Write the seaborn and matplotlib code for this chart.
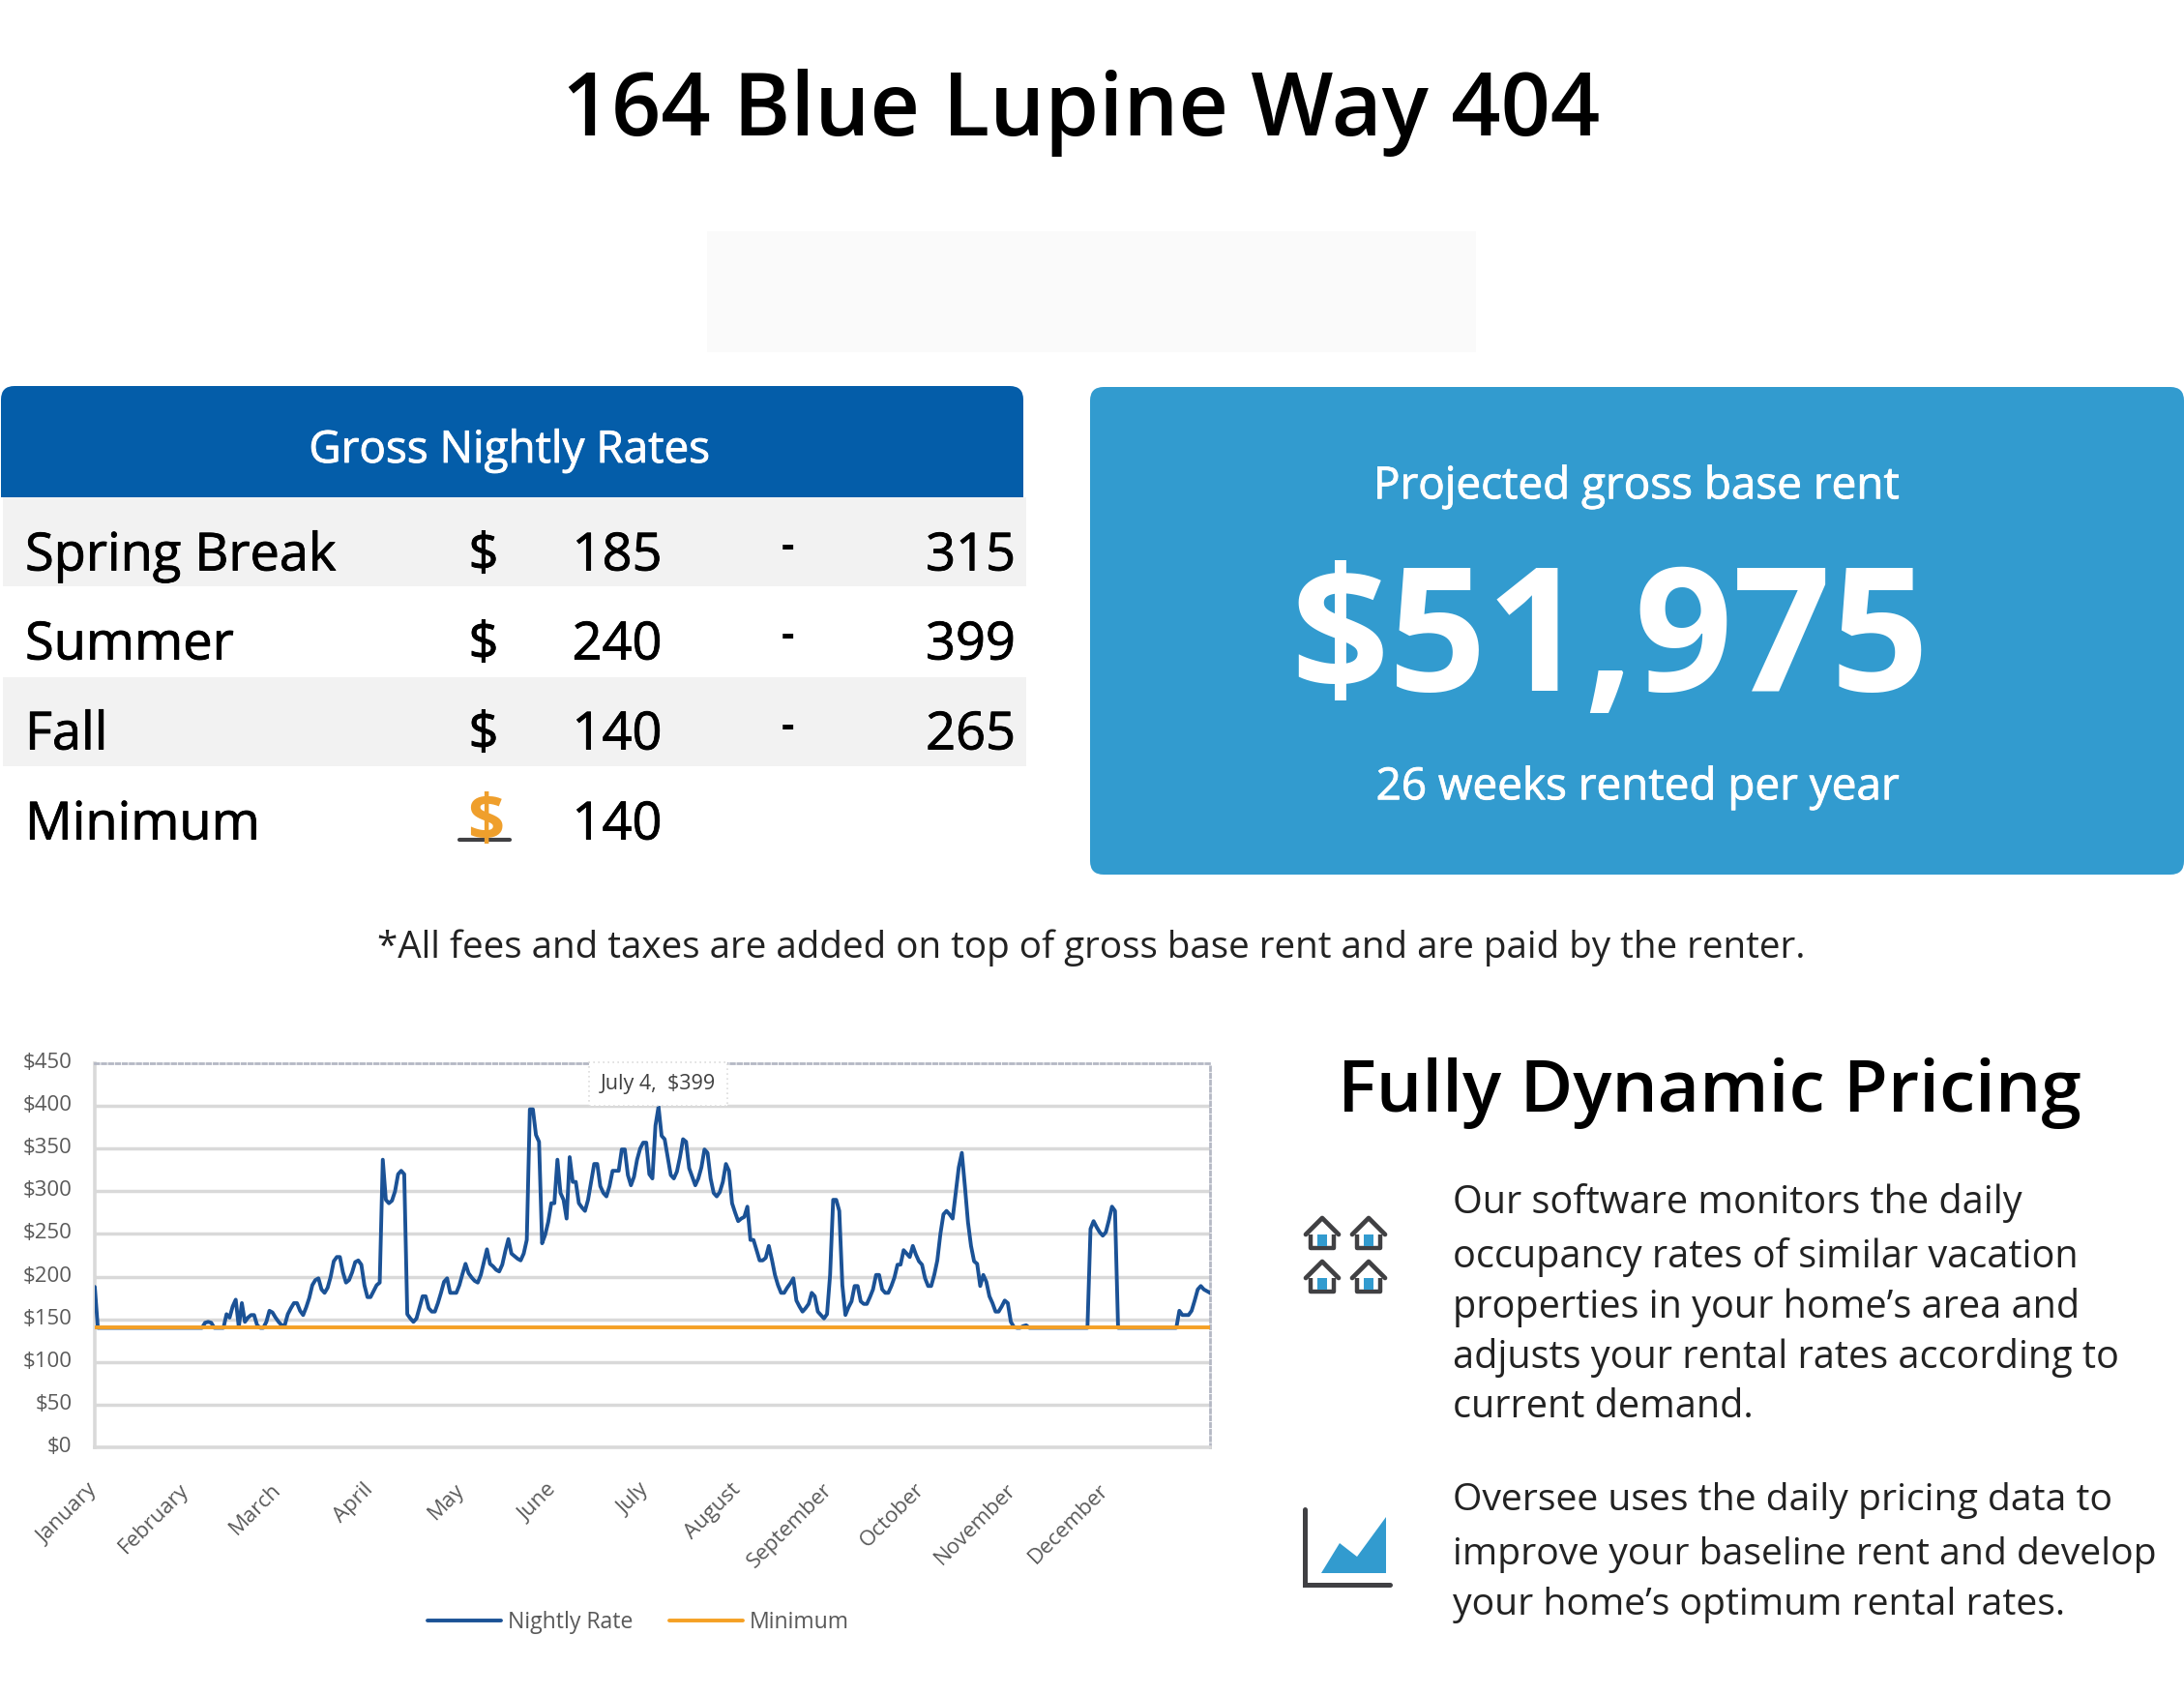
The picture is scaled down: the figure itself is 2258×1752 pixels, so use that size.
import matplotlib
matplotlib.use("Agg")
import matplotlib.pyplot as plt
import matplotlib.patheffects as pe
import matplotlib.transforms as mtrans
import seaborn as sns
import pandas as pd
from matplotlib.patches import FancyBboxPatch, Rectangle, Polygon

W, H = 2258, 1752

months = ["January", "February", "March", "April", "May", "June", "July",
          "August", "September", "October", "November", "December"]
month_days = [0, 30, 60, 90, 120, 150, 180, 210, 240, 270, 300, 330]
price_ticks = [0, 50, 100, 150, 200, 250, 300, 350, 400, 450]
minimum_rate = 140

nightly_rate = [
    188, 140, 140, 140, 140, 140, 140, 140, 140, 140,
    140, 140, 140, 140, 140, 140, 140, 140, 140, 140,
    140, 140, 140, 140, 140, 140, 140, 140, 140, 140,
    140, 140, 140, 140, 140, 140, 146, 147, 146, 140,
    140, 140, 140, 156, 152, 165, 173, 141, 169, 147,
    152, 155, 155, 143, 140, 140, 147, 160, 158, 152,
    147, 143, 143, 156, 163, 169, 169, 160, 155, 164,
    175, 190, 196, 198, 185, 181, 187, 200, 218, 223,
    223, 205, 193, 196, 205, 217, 219, 214, 190, 176,
    176, 183, 190, 193, 337, 290, 286, 289, 300, 320,
    324, 320, 156, 151, 147, 151, 164, 177, 177, 163,
    159, 159, 169, 181, 194, 198, 181, 181, 181, 190,
    203, 215, 204, 199, 195, 193, 202, 217, 232, 215,
    212, 208, 206, 214, 230, 244, 227, 224, 221, 219,
    227, 243, 396, 396, 366, 358, 239, 249, 264, 286,
    286, 337, 298, 290, 268, 340, 311, 311, 286, 281,
    277, 290, 311, 332, 332, 306, 298, 294, 306, 324,
    324, 324, 349, 349, 319, 307, 317, 337, 350, 357,
    357, 320, 315, 377, 399, 365, 361, 340, 319, 315,
    323, 340, 361, 358, 327, 317, 307, 315, 328, 349,
    345, 315, 298, 294, 299, 311, 332, 324, 286, 275,
    265, 268, 270, 282, 243, 243, 231, 219, 219, 222,
    236, 220, 202, 190, 181, 181, 187, 192, 198, 172,
    165, 159, 163, 168, 181, 177, 159, 155, 151, 156,
    202, 290, 290, 277, 190, 155, 164, 171, 189, 189,
    171, 168, 168, 176, 185, 202, 202, 185, 181, 181,
    189, 199, 214, 214, 231, 227, 223, 236, 226, 218,
    214, 198, 189, 189, 202, 219, 250, 273, 277, 273,
    268, 298, 328, 345, 306, 264, 236, 218, 215, 189,
    202, 194, 177, 169, 159, 159, 165, 172, 169, 147,
    141, 140, 140, 142, 143, 140, 140, 140, 140, 140,
    140, 140, 140, 140, 140, 140, 140, 140, 140, 140,
    140, 140, 140, 140, 140, 256, 265, 258, 252, 248,
    252, 266, 282, 277, 140, 140, 140, 140, 140, 140,
    140, 140, 140, 140, 140, 140, 140, 140, 140, 140,
    140, 140, 140, 140, 160, 155, 155, 155, 160, 172,
    185, 189, 185, 183, 181,
]

season_names = ["Spring Break", "Summer", "Fall", "Minimum"]
season_low = ["185", "240", "140", "140"]
season_high = ["315", "399", "265", ""]

par_one = ["Our software monitors the daily",
           "occupancy rates of similar vacation",
           "properties in your home’s area and",
           "adjusts your rental rates according to",
           "current demand."]
par_two = ["Oversee uses the daily pricing data to",
           "improve your baseline rent and develop",
           "your home’s optimum rental rates."]

BLUE_DARK = "#045DA9"
BLUE_LIGHT = "#329BCF"
STRIPE = "#F2F2F2"
ICON = "#404043"
LINE_BLUE = "#1B5296"
ORANGE = "#F5A024"

sns.set_theme(style="white")
plt.rcParams["font.family"] = ["Open Sans", "DejaVu Sans"]

fig = plt.figure(figsize=(W / 100, H / 100), dpi=100, facecolor="white")

# page layer in pixel coordinates
bg = fig.add_axes([0, 0, 1, 1])
bg.set_xlim(0, W)
bg.set_ylim(H, 0)
bg.axis("off")


def put(x, y, s, size, color="black", ha="center", weight="normal", stroke=0):
    t = bg.text(x, y, s, fontsize=size, color=color, ha=ha, va="center", fontweight=weight)
    if stroke:
        # source text is a little heavier than Open Sans regular
        t.set_path_effects([pe.withStroke(linewidth=stroke, foreground=color)])


def draw_house(cx, top):
    roof = [(cx - 17, top + 18), (cx, top + 1), (cx + 17, top + 18)]
    bg.add_patch(Polygon([(cx - 12, top + 15), (cx - 12, top + 32), (cx + 12, top + 32), (cx + 12, top + 15)],
                         closed=True, fill=False, ec=ICON, lw=3.2, joinstyle="round"))
    bg.add_patch(Polygon([(cx, top + 3), (cx + 16, top + 18), (cx - 16, top + 18)], closed=True, fc="white", ec="none"))
    bg.plot(*zip(*roof), color=ICON, lw=3.4, solid_capstyle="round", solid_joinstyle="round")
    bg.add_patch(Rectangle((cx - 5, top + 18), 10, 12, fc=BLUE_LIGHT, ec="none"))


put(1118, 116, "164 Blue Lupine Way 404", 64.6, weight=600)
bg.add_patch(Rectangle((731, 239), 795, 125, fc="#FAFAFA", ec="none"))

# rates table, only the top corners of the header are round
bg.add_patch(FancyBboxPatch((15, 413), 1029, 90, boxstyle="round,pad=14,rounding_size=14", fc=BLUE_DARK, ec="none"))
bg.add_patch(Rectangle((1, 470), 1057, 44, fc=BLUE_DARK, ec="none"))
bg.add_patch(Rectangle((3, 514), 1058, 92, fc=STRIPE, ec="none"))
bg.add_patch(Rectangle((3, 700), 1058, 92, fc=STRIPE, ec="none"))
put(527, 466, "Gross Nightly Rates", 33, color="white", stroke=0.6)

row_y = [575, 667, 760, 853]
for i, name in enumerate(season_names):
    put(26, row_y[i], name, 39, ha="left", stroke=0.6)
    put(638, row_y[i], season_low[i], 39, stroke=0.6)
    if season_high[i]:
        put(500, row_y[i], "$", 39, stroke=0.6)
        put(814, row_y[i] - 8, "-", 30, weight="bold")
        put(1050, row_y[i], season_high[i], 39, ha="right", stroke=0.6)

put(502, 851, "$", 48, color="#EF9F2C", weight="bold")
bg.plot([475, 527], [868, 868], color=ICON, lw=3)

# rent panel
bg.add_patch(FancyBboxPatch((1141, 414), 1103, 476, boxstyle="round,pad=14,rounding_size=14", fc=BLUE_LIGHT, ec="none"))
put(1692, 503, "Projected gross base rent", 33, color="white", stroke=0.6)
put(1665, 668, "$51,975", 128, color="white", weight="bold")
put(1693, 814, "26 weeks rented per year", 33, color="white", stroke=0.6)

put(1128, 980, "*All fees and taxes are added on top of gross base rent and are paid by the renter.", 27.8, color="#222222")

# right column
put(1767, 1130, "Fully Dynamic Pricing", 53.8, weight=600)
for y, line in zip([1244, 1299, 1351, 1403, 1455], par_one):
    put(1502, y, line, 28.5, color="#222222", ha="left")
for y, line in zip([1551, 1607, 1659], par_two):
    put(1502, y, line, 28.2, color="#222222", ha="left")

for cx in (1367, 1415):
    for top in (1258, 1303):
        draw_house(cx, top)
bg.plot([1349, 1349, 1437], [1560, 1638, 1638], color=ICON, lw=3.6, solid_capstyle="round", solid_joinstyle="miter")
bg.add_patch(Polygon([(1366, 1626), (1385, 1595), (1403, 1609), (1433, 1568), (1433, 1626)], closed=True, fc=BLUE_LIGHT, ec="none"))

# price chart
chart_left, chart_right, chart_top, chart_bottom = 98, 1251, 1099, 1496
ax = fig.add_axes([chart_left / W, 1 - chart_bottom / H, (chart_right - chart_left) / W, (chart_bottom - chart_top) / H])
ax.patch.set_alpha(0)

days = list(range(len(nightly_rate)))
df = pd.DataFrame({"day": days + days,
                   "rate": nightly_rate + [minimum_rate] * len(days),
                   "series": ["Nightly Rate"] * len(days) + ["Minimum"] * len(days)})
sns.lineplot(data=df, x="day", y="rate", hue="series", ax=ax, linewidth=2.8,
             palette={"Nightly Rate": LINE_BLUE, "Minimum": ORANGE}, zorder=3, legend=True)

ax.set_xlim(0, 364)
ax.set_ylim(0, 450)
ax.set_xlabel("")
ax.set_ylabel("")
ax.set_yticks(price_ticks)
ax.set_yticklabels([f"${v}" for v in price_ticks], fontsize=16, color="#595959")
ax.set_xticks(month_days)
ax.set_xticklabels(months, fontsize=16, color="#595959", rotation=45, ha="right", rotation_mode="anchor")
ax.tick_params(axis="both", length=0)
ax.tick_params(axis="x", pad=24)
ax.tick_params(axis="y", pad=17)

# labels sit slightly off their ticks in the source
x_shift = mtrans.ScaledTranslation(-8 / 100, 0, fig.dpi_scale_trans)
y_shift = mtrans.ScaledTranslation(0, 3 / 100, fig.dpi_scale_trans)
for lab in ax.get_xticklabels():
    lab.set_transform(lab.get_transform() + x_shift)
for lab in ax.get_yticklabels():
    lab.set_transform(lab.get_transform() + y_shift)

ax.yaxis.grid(True, color="#D9D9D9", lw=2.5)
ax.yaxis.get_gridlines()[-1].set_visible(False)
ax.set_axisbelow(True)
for side in ("left", "bottom"):
    ax.spines[side].set_color("#D9D9D9")
    ax.spines[side].set_linewidth(2.6)
for side in ("top", "right"):
    ax.spines[side].set_color("#B4B8C4")
    ax.spines[side].set_linewidth(2)
    ax.spines[side].set_linestyle((0, (1.3, 1.3)))

ax.annotate("July 4,  $399", xy=(184, 399), xytext=(0, 17), textcoords="offset points",
            ha="center", va="center", fontsize=15.5, color="#404040", zorder=5,
            bbox=dict(boxstyle="square,pad=0.55", fc="white", ec="#DDDDDD", lw=1.2, ls=(0, (1, 2))))

handles, labels = ax.get_legend_handles_labels()
ax.legend(handles, labels, loc="center", bbox_to_anchor=(660 / W, 1 - 1677 / H),
          bbox_transform=fig.transFigure, ncol=2, frameon=False, fontsize=16.6,
          labelcolor="#595959", handlelength=3.3, handletextpad=0.3, columnspacing=1.6)

fig.savefig("out.png", dpi=100)
plt.close(fig)
